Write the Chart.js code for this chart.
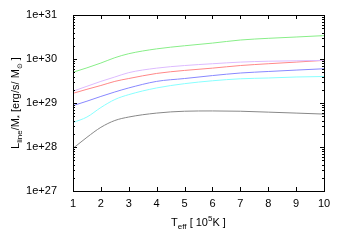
<!DOCTYPE html>
<html>
<head>
<meta charset="utf-8">
<script src="https://cdn.jsdelivr.net/npm/chart.js@4"></script>
<style>
  html, body { margin: 0; padding: 0; background: #fff; }
  #wrap { width: 346px; height: 242px; }
</style>
</head>
<body>
<div id="wrap"><canvas id="grafico" width="346" height="242"></canvas></div>
<script>
// temperatura efectiva en 10^5 K
const teff = [1, 1.5, 2, 2.5, 3, 4, 5, 6, 7, 8, 9, 10];

const serieVerde = [5.0e29, 6.3e29, 8.1e29, 1.07e30, 1.32e30, 1.70e30, 2.0e30, 2.3e30, 2.7e30, 2.95e30, 3.16e30, 3.4e30];
const serieVioleta = [1.86e29, 2.4e29, 3.1e29, 3.9e29, 4.9e29, 6.2e29, 7.1e29, 7.8e29, 8.5e29, 8.9e29, 9.1e29, 9.3e29];
const serieRoja = [1.66e29, 2.05e29, 2.5e29, 3.1e29, 3.6e29, 4.7e29, 5.5e29, 6.2e29, 7.1e29, 7.8e29, 8.5e29, 9.3e29];
const serieAzul = [8.7e28, 1.10e29, 1.41e29, 1.78e29, 2.2e29, 3.1e29, 3.6e29, 4.2e29, 4.8e29, 5.2e29, 5.6e29, 6.0e29];
const serieCian = [3.6e28, 4.8e28, 7.9e28, 1.2e29, 1.55e29, 2.2e29, 2.75e29, 3.2e29, 3.55e29, 3.7e29, 3.9e29, 4.0e29];
const serieGris = [9.3e27, 1.66e28, 2.8e28, 4.0e28, 4.8e28, 5.9e28, 6.5e28, 6.6e28, 6.5e28, 6.2e28, 5.9e28, 5.6e28];

const ticksX = [1, 2, 3, 4, 5, 6, 7, 8, 9, 10];
const ticksY = [1e27, 1e28, 1e29, 1e30, 1e31];

const fuente = '"Liberation Sans", Arial, sans-serif';

function puntos(serie) {
    return serie.map((v, i) => ({ x: teff[i], y: v }));
}

function linea(serie, color) {
    return {
        data: puntos(serie),
        borderColor: color,
        borderWidth: 1,
        pointRadius: 0,
        fill: false,
        cubicInterpolationMode: 'monotone'
    };
}

// marco, marcas de ejes y titulos con subindices
const marcoPlugin = {
    id: 'marco',
    afterDraw(chart) {
        const ctx = chart.ctx;
        const a = chart.chartArea;
        const sx = chart.scales.x;
        const sy = chart.scales.y;
        ctx.save();
        ctx.strokeStyle = '#000';
        ctx.lineWidth = 1;
        ctx.beginPath();
        ticksX.forEach(t => {
            const px = Math.round(sx.getPixelForValue(t)) + 0.5;
            ctx.moveTo(px, a.bottom); ctx.lineTo(px, a.bottom - 4);
            ctx.moveTo(px, a.top); ctx.lineTo(px, a.top + 4);
        });
        for (let e = 27; e <= 31; e++) {
            const py = Math.round(sy.getPixelForValue(Math.pow(10, e))) + 0.5;
            ctx.moveTo(a.left, py); ctx.lineTo(a.left + 4, py);
            ctx.moveTo(a.right, py); ctx.lineTo(a.right - 4, py);
            if (e < 31) {
                for (let m = 2; m <= 9; m++) {
                    const pm = Math.round(sy.getPixelForValue(m * Math.pow(10, e))) + 0.5;
                    ctx.moveTo(a.left, pm); ctx.lineTo(a.left + 2, pm);
                    ctx.moveTo(a.right, pm); ctx.lineTo(a.right - 2, pm);
                }
            }
        }
        ctx.stroke();
        ctx.strokeRect(Math.round(a.left) + 0.5, Math.round(a.top) + 0.5,
            Math.round(a.right - a.left), Math.round(a.bottom - a.top));

        // titulo eje x
        ctx.fillStyle = '#000';
        ctx.textAlign = 'left';
        ctx.textBaseline = 'alphabetic';
        const partesX = [['T', 11, 0], ['eff', 8, 3], [' [ 10', 11, 0], ['5', 8, -5], ['K ]', 11, 0]];
        dibujarPartes(ctx, partesX, (a.left + a.right) / 2, 226);

        // titulo eje y (rotado)
        ctx.translate(19, (a.top + a.bottom) / 2);
        ctx.rotate(-Math.PI / 2);
        const partesY = [['L', 11, 0], ['line', 8, 3], ['/M', 11, 0], ['*', 8, 3], [' [erg/s/ M', 11, 0], ['\u2299', 7, 3], [' ]', 11, 0]];
        dibujarPartes(ctx, partesY, 0, 0);
        ctx.restore();
    }
};

function dibujarPartes(ctx, partes, cx, base) {
    let ancho = 0;
    partes.forEach(p => {
        ctx.font = p[1] + 'px ' + fuente;
        ancho += ctx.measureText(p[0]).width;
    });
    let x = cx - ancho / 2;
    partes.forEach(p => {
        ctx.font = p[1] + 'px ' + fuente;
        ctx.fillText(p[0], x, base + p[2]);
        x += ctx.measureText(p[0]).width;
    });
}

const ctx = document.getElementById('grafico').getContext('2d');
new Chart(ctx, {
    type: 'line',
    data: {
        datasets: [
            linea(serieVerde, '#88ee88'),
            linea(serieVioleta, '#ddbbff'),
            linea(serieRoja, '#ff8888'),
            linea(serieAzul, '#8888ff'),
            linea(serieCian, '#88ffff'),
            linea(serieGris, '#888888')
        ]
    },
    options: {
        responsive: false,
        animation: false,
        devicePixelRatio: 1,
        layout: { padding: { top: 15, right: 22, left: 0, bottom: 0 } },
        plugins: {
            legend: { display: false },
            tooltip: { enabled: false }
        },
        scales: {
            x: {
                type: 'linear',
                min: 1,
                max: 10,
                grid: { display: false, drawTicks: false },
                border: { display: false },
                afterBuildTicks: s => { s.ticks = ticksX.map(v => ({ value: v })); },
                afterFit: s => { s.height = 51; s.paddingLeft = 0; s.paddingRight = 0; },
                ticks: {
                    color: '#000',
                    padding: 6,
                    maxRotation: 0,
                    font: { family: fuente, size: 11 }
                }
            },
            y: {
                type: 'logarithmic',
                min: 1e27,
                max: 1e31,
                grid: { display: false, drawTicks: false },
                border: { display: false },
                afterBuildTicks: s => { s.ticks = ticksY.map(v => ({ value: v })); },
                afterFit: s => { s.width = 73; s.paddingTop = 0; s.paddingBottom = 0; },
                ticks: {
                    color: '#000',
                    padding: 16,
                    font: { family: fuente, size: 11 },
                    callback: v => '1e+' + Math.round(Math.log10(v))
                }
            }
        }
    },
    plugins: [marcoPlugin]
});
</script>
</body>
</html>
